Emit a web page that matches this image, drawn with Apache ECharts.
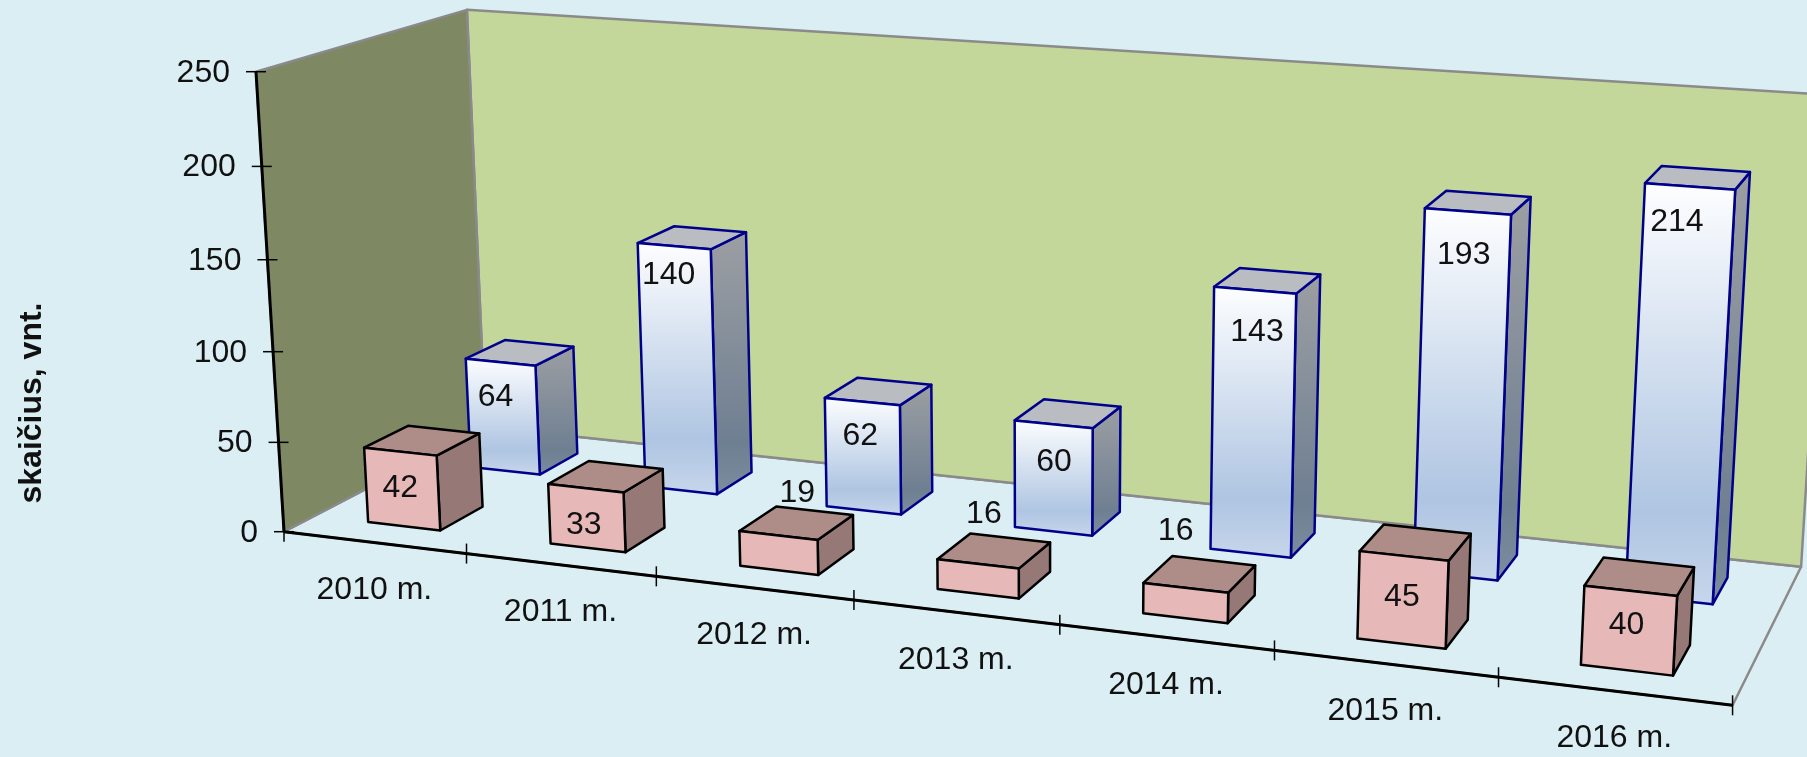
<!DOCTYPE html>
<html>
<head>
<meta charset="utf-8">
<style>
    html, body { margin: 0; height: 100%; background: #DBEEF4; }
    #chart { width: 1807px; height: 757px; }
</style>
</head>
<body>
<div id="chart"></div>
<script src="https://cdn.jsdelivr.net/npm/echarts@6/dist/echarts.min.js"></script>
<script>
    var categories = ['2010 m.', '2011 m.', '2012 m.', '2013 m.', '2014 m.', '2015 m.', '2016 m.'];
    var pinkValues = [42, 33, 19, 16, 16, 45, 40];
    var blueValues = [64, 140, 62, 60, 143, 193, 214];
    var valueTicks = [0, 50, 100, 150, 200, 250];
    var axisTitle = 'skaičius, vnt.';

    // hand placed labels in the original, px away from the bar's top front edge
    var pinkLabelShift = [[0, 37], [-2, 37], [19, -42], [6, -50], [-10, -57], [-2, 41], [-4, 34]];
    var blueLabelShift = [[-5, 35], [-5.5, 29], [-2, 35], [0.5, 38], [2, 42], [-4, 44], [-13, 36]];

    var FONT = '"Liberation Sans", Arial, sans-serif';
    var LABEL_FONT = '32px ' + FONT;
    var BAR_HALF = 0.2;
    var PINK_DEPTH = [0.14, 0.35];
    var BLUE_DEPTH = [0.65, 0.857];

    // perspective camera: u = category bands, v = 0..1 of value axis, w = 0..1 depth
    function project(u, v, w) {
        var den = 1 - 0.0193 * u - 0.0357 * v + 0.108 * w;
        return [
            (284 + 173.5 * u - 37.14 * v + 253.8 * w) / den,
            (531.7 + 11.19 * u - 462.56 * v - 58.6 * w) / den
        ];
    }

    // goes through the hidden axes, then bends the flat grid into the 3d box
    function pt(params, api, cat, du, val, w) {
        var c = api.coord([cat, val]);
        var r = params.coordSys;
        var u = (c[0] - r.x) / r.width * categories.length + du;
        var v = (r.y + r.height - c[1]) / r.height;
        return project(u, v, w);
    }

    function poly(points, fill, stroke, lineWidth) {
        return {
            type: 'polygon',
            shape: {points: points},
            style: {fill: fill, stroke: stroke, lineWidth: lineWidth, lineJoin: 'round'}
        };
    }

    function line(a, b, color, lineWidth) {
        return {
            type: 'line',
            shape: {x1: a[0], y1: a[1], x2: b[0], y2: b[1]},
            style: {stroke: color, lineWidth: lineWidth}
        };
    }

    function label(text, x, y, align) {
        return {
            type: 'text',
            x: x,
            y: y,
            style: {text: text, font: LABEL_FONT, fill: '#111', align: align || 'center', verticalAlign: 'middle'}
        };
    }

    function vertical(stops) {
        return {
            type: 'linear', x: 0, y: 0, x2: 0, y2: 1,
            colorStops: stops.map(function (s) {
                return {offset: s[0], color: s[1]};
            })
        };
    }

    var blueFront = vertical([[0, '#FDFEFF'], [0.78, '#AFC5E2'], [1, '#C7D6EB']]);
    var blueSide = vertical([[0, '#9C9FA3'], [0.8, '#6F7F92'], [1, '#7D8DA0']]);

    function renderWalls(params, api) {
        var a = pt(params, api, 0, -0.5, 0, 0);
        var b = pt(params, api, 6, 0.5, 0, 0);
        var c = pt(params, api, 6, 0.5, 0, 1);
        var d = pt(params, api, 0, -0.5, 0, 1);
        var e = pt(params, api, 0, -0.5, 250, 0);
        var f = pt(params, api, 0, -0.5, 250, 1);
        var g = pt(params, api, 6, 0.5, 250, 1);
        return {
            type: 'group',
            children: [
                poly([b, c, d, a], '#DBEEF4', '#8A8A8A', 2.5),
                poly([d, c, g, f], '#C4D79B', '#8A8A8A', 2.5),
                poly([a, d, f, e], '#7E8863', '#8A8A8A', 2.5),
                line(a, e, '#000', 3),
                line(a, b, '#000', 3)
            ]
        };
    }

    function renderValueTick(params, api) {
        var val = api.value(1);
        var p = pt(params, api, 0, -0.5, val, 0);
        return {
            type: 'group',
            children: [
                line([p[0] - 10, p[1]], [p[0] + 10, p[1]], '#000', 1.5),
                label(String(val), p[0] - 26, p[1] + 1, 'right')
            ]
        };
    }

    function renderCategoryTick(params, api) {
        var i = api.value(0);
        var left = pt(params, api, i, -0.5, 0, 0);
        var right = pt(params, api, i, 0.5, 0, 0);
        var mid = pt(params, api, i, 0, 0, 0);
        var children = [
            line([right[0], right[1] - 10], [right[0], right[1] + 10], '#000', 1.5),
            label(categories[i], mid[0], mid[1] + 47.5)
        ];
        if (i === 0) {
            children.push(line([left[0], left[1] - 10], [left[0], left[1] + 10], '#000', 1.5));
        }
        return {type: 'group', children: children};
    }

    function makeBarRender(depth, front, side, top, edge, shift) {
        return function (params, api) {
            var i = api.value(0);
            var val = api.value(1);
            var w0 = depth[0];
            var w1 = depth[1];
            var fbl = pt(params, api, i, -BAR_HALF, 0, w0);
            var fbr = pt(params, api, i, BAR_HALF, 0, w0);
            var bbr = pt(params, api, i, BAR_HALF, 0, w1);
            var ftl = pt(params, api, i, -BAR_HALF, val, w0);
            var ftr = pt(params, api, i, BAR_HALF, val, w0);
            var btr = pt(params, api, i, BAR_HALF, val, w1);
            var btl = pt(params, api, i, -BAR_HALF, val, w1);
            var mid = pt(params, api, i, 0, val, w0);
            return {
                type: 'group',
                children: [
                    poly([fbr, bbr, btr, ftr], side, edge, 2.5),
                    poly([ftl, ftr, btr, btl], top, edge, 2.5),
                    poly([fbl, fbr, ftr, ftl], front, edge, 2.5),
                    label(String(val), mid[0] + shift[i][0], mid[1] + shift[i][1])
                ]
            };
        };
    }

    function pairs(values) {
        return values.map(function (v, i) {
            return [i, v];
        });
    }

    var chart = echarts.init(document.getElementById('chart'), null, {renderer: 'canvas'});

    chart.setOption({
        backgroundColor: '#DBEEF4',
        animation: false,
        grid: {left: 300, top: 100, width: 700, height: 250},
        xAxis: {type: 'category', data: categories, show: false},
        yAxis: {type: 'value', min: 0, max: 250, interval: 50, show: false},
        graphic: {
            type: 'text',
            x: 32,
            y: 403,
            rotation: Math.PI / 2,
            style: {text: axisTitle, font: 'bold 32px ' + FONT, fill: '#111', align: 'center', verticalAlign: 'middle'}
        },
        series: [
            {type: 'custom', name: 'walls', silent: true, renderItem: renderWalls, data: [[0, 0]]},
            {type: 'custom', name: 'valueTicks', silent: true, renderItem: renderValueTick, data: valueTicks.map(function (v) { return [0, v]; })},
            {type: 'custom', name: 'categoryTicks', silent: true, renderItem: renderCategoryTick, data: pairs(categories.map(function () { return 0; }))},
            {
                type: 'custom', name: 'blue', silent: true, data: pairs(blueValues),
                renderItem: makeBarRender(BLUE_DEPTH, blueFront, blueSide, '#B9BDC1', '#00008B', blueLabelShift)
            },
            {
                type: 'custom', name: 'pink', silent: true, data: pairs(pinkValues),
                renderItem: makeBarRender(PINK_DEPTH, '#E6B8B7', '#967876', '#AE8C87', '#000', pinkLabelShift)
            }
        ]
    });
</script>
</body>
</html>
